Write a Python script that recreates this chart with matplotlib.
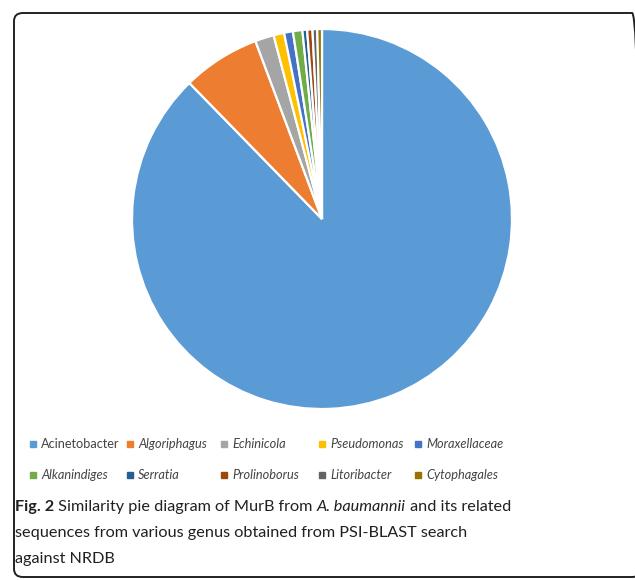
import matplotlib
matplotlib.use("Agg")
import matplotlib.pyplot as plt
from matplotlib.patches import FancyBboxPatch, Rectangle

# genus shares (%) of PSI-BLAST hits
genus = ['Acinetobacter', 'Algoriphagus', 'Echinicola', 'Pseudomonas', 'Moraxellaceae',
         'Alkanindiges', 'Serratia', 'Prolinoborus', 'Litoribacter', 'Cytophagales']
share = [87.7, 6.6, 1.6, 0.9, 0.75, 0.8, 0.4, 0.45, 0.4, 0.4]
colors = ['#5B9BD5', '#ED7D31', '#A5A5A5', '#FFC000', '#4472C4',
          '#70AD47', '#255E91', '#9E480E', '#636363', '#997300']

W, H = 635, 580
fig = plt.figure(figsize=(W / 100, H / 100), dpi=100)
fig.patch.set_facecolor('white')

# rounded frame around the figure panel (right side runs off the edge)
frame = FancyBboxPatch((14 / W, 3 / H), 627 / W, 564 / H,
                       boxstyle="round,pad=0,rounding_size=0.014",
                       transform=fig.transFigure, fill=False,
                       edgecolor='#222222', linewidth=1.4)
fig.patches.append(frame)

# the pie
cx, cy, r = 322, 219, 190
ax = fig.add_axes([(cx - r) / W, (H - cy - r) / H, 2 * r / W, 2 * r / H])
ax.pie(share, colors=colors, startangle=90, counterclock=False,
       wedgeprops=dict(edgecolor='white', linewidth=1.6))
ax.set_xlim(-1, 1)
ax.set_ylim(-1, 1)
ax.set_aspect('equal')
ax.axis('off')

# legend, two rows of five
col_x = [33, 130, 224, 322, 418]
row_y = [444, 475]
for i, name in enumerate(genus):
    x = col_x[i % 5]
    y = row_y[i // 5]
    fig.patches.append(Rectangle(((x - 3) / W, (H - y - 3) / H), 6 / W, 6 / H,
                                 transform=fig.transFigure, color=colors[i]))
    fig.text((x + 8) / W, (H - y) / H, name, fontsize=9.2, family='Lato',
             style='normal' if i == 0 else 'italic', color='#444444', va='center')

# caption, written piece by piece so bold and italic can mix
caption = [
    [('Fig. 2', 'bold', 'normal'), (' Similarity pie diagram of MurB from ', 'normal', 'normal'),
     ('A. baumannii', 'normal', 'italic'), (' and its related', 'normal', 'normal')],
    [('sequences from various genus obtained from PSI-BLAST search', 'normal', 'normal')],
    [('against NRDB', 'normal', 'normal')],
]
line_y = [507, 533, 559]
renderer = fig.canvas.get_renderer()
for parts, y in zip(caption, line_y):
    x = 15
    for txt, weight, style in parts:
        t = fig.text(x / W, (H - y) / H, txt, fontsize=11.7, family='Lato',
                     weight=weight, style=style, color='#231f20', va='center')
        bb = t.get_window_extent(renderer=renderer)
        x += bb.width

fig.savefig('out.png', dpi=100)
